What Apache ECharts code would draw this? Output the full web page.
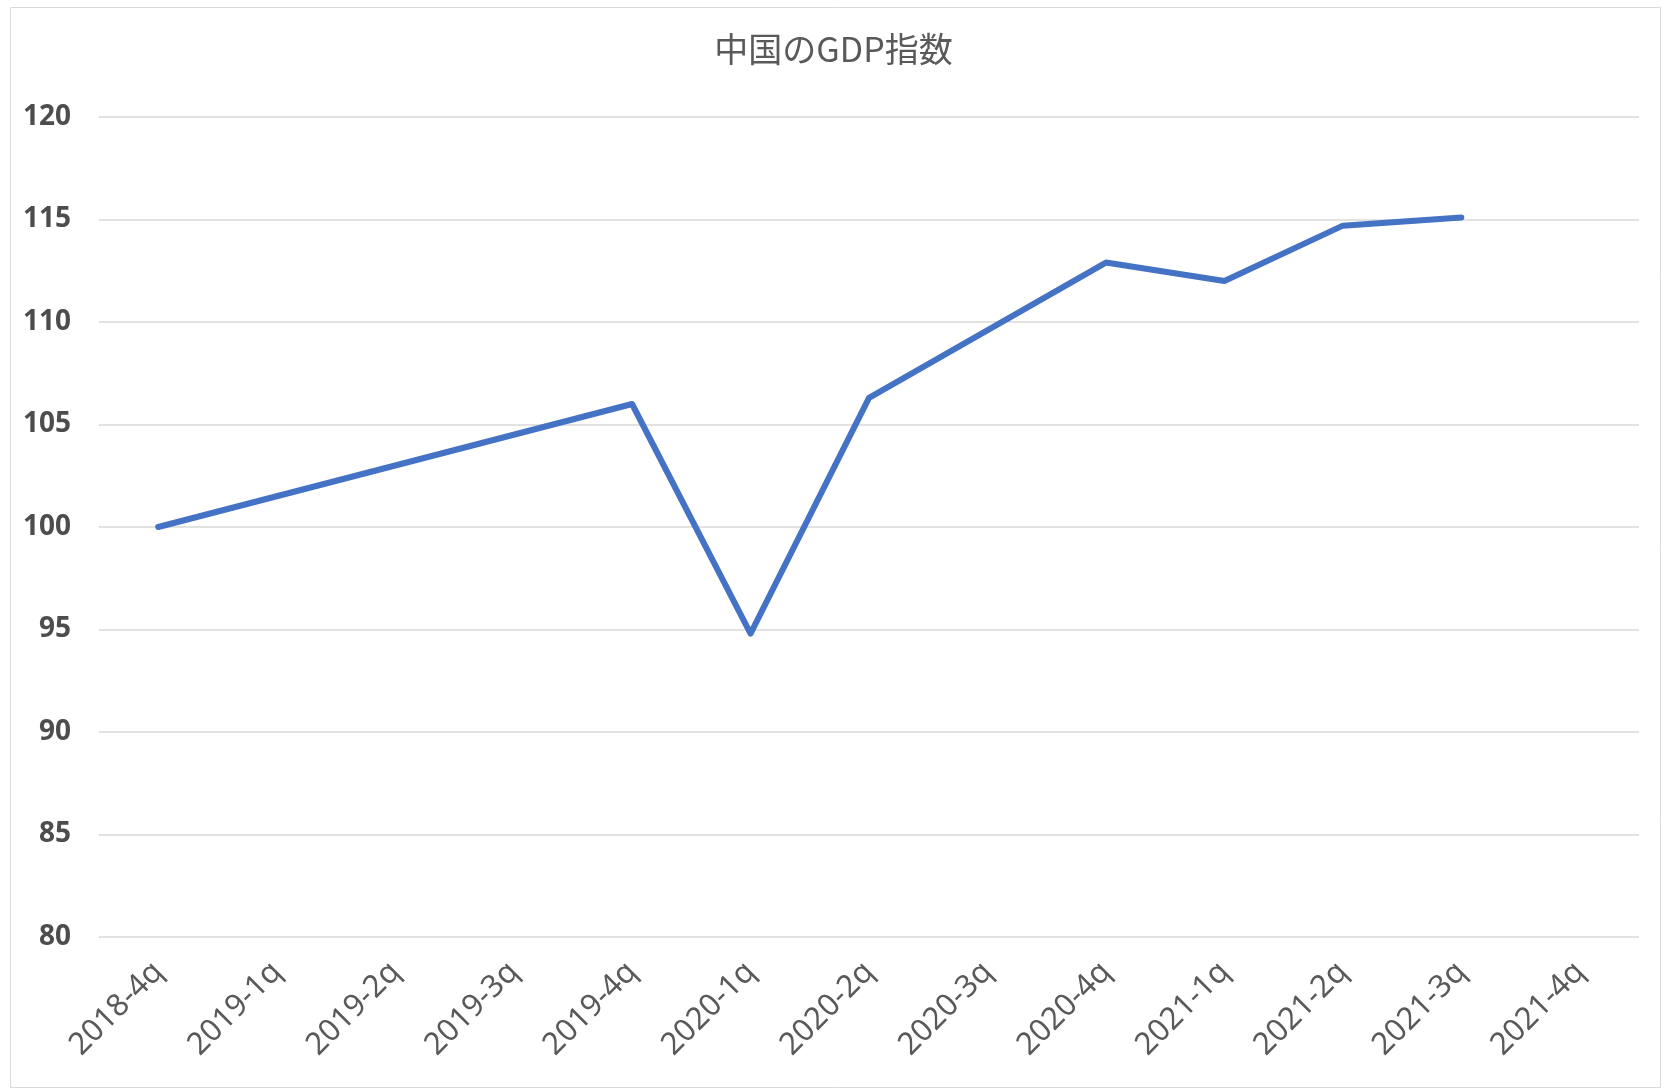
<!DOCTYPE html>
<html>
<head>
<meta charset="utf-8">
<title>中国のGDP指数</title>
<script src="https://cdn.jsdelivr.net/npm/echarts@6/dist/echarts.min.js"></script>
<style>
  html, body { margin: 0; padding: 0; background: #fff; }
  #chart { width: 1667px; height: 1089px; }
</style>
</head>
<body>
<div id="chart"></div>
<script>
// 四半期
const quarters = [
  '2018-4q', '2019-1q', '2019-2q', '2019-3q', '2019-4q',
  '2020-1q', '2020-2q', '2020-3q', '2020-4q',
  '2021-1q', '2021-2q', '2021-3q', '2021-4q'
]
// GDP指数 (2018-4q = 100), 空欄は null
const gdpIndex = [100, null, null, null, 106.0, 94.8, 106.3, null, 112.9, 112.0, 114.7, 115.1, null]
const yTicks = { min: 80, max: 120, interval: 5 }

const chart = echarts.init(document.getElementById('chart'))

chart.setOption({
  backgroundColor: '#ffffff',
  animation: false,
  title: {
    text: '中国のGDP指数',
    left: 'center',
    top: 32,
    padding: 0,
    textStyle: {
      fontFamily: 'Noto Sans CJK JP',
      fontSize: 34,
      fontWeight: 'normal',
      color: '#595959',
    },
  },
  graphic: [
    {
      type: 'rect',
      left: 8,
      top: 5,
      shape: { width: 1650, height: 1080 },
      style: { fill: 'none', stroke: '#d9d9d9', lineWidth: 1 },
      silent: true,
      z: -1,
    },
  ],
  grid: {
    left: 99,
    right: 28,
    top: 117,
    bottom: 152,
  },
  xAxis: {
    type: 'category',
    data: quarters,
    boundaryGap: true,
    axisLine: { show: false },
    axisTick: { show: false },
    axisLabel: {
      rotate: 45,
      margin: 30,
      interval: 0,
      fontFamily: 'Noto Sans',
      fontSize: 31,
      color: '#595959',
    },
  },
  yAxis: {
    type: 'value',
    min: yTicks.min,
    max: yTicks.max,
    interval: yTicks.interval,
    axisLine: { show: false },
    axisTick: { show: false },
    axisLabel: {
      margin: 28,
      fontFamily: 'Noto Sans',
      fontSize: 28,
      fontWeight: 'bold',
      color: '#4d4d4d',
    },
    splitLine: {
      lineStyle: { color: '#d9d9d9', width: 1.5 },
    },
  },
  series: [
    {
      type: 'line',
      data: gdpIndex,
      connectNulls: true,
      showSymbol: false,
      symbol: 'none',
      lineStyle: { color: '#4472C4', width: 6, cap: 'round', join: 'round' },
      itemStyle: { color: '#4472C4' },
    },
  ],
})
</script>
</body>
</html>
